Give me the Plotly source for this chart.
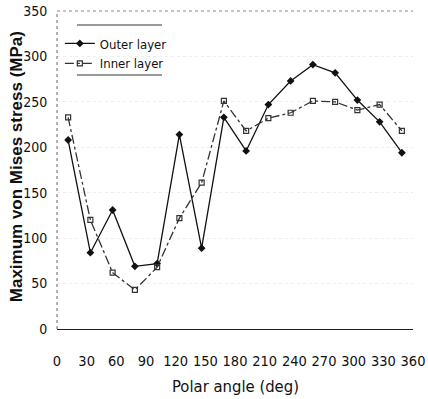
import plotly.graph_objects as go

angles = [11.25, 33.75, 56.25, 78.75, 101.25, 123.75, 146.25, 168.75,
          191.25, 213.75, 236.25, 258.75, 281.25, 303.75, 326.25, 348.75]
outer = [208, 84, 131, 69, 72, 214, 89, 233, 196, 247, 273, 291, 282, 252, 228, 194]
inner = [233, 120, 62, 43, 68, 122, 161, 251, 218, 232, 238, 251, 250, 241, 247, 218]
x_ticks = [0, 30, 60, 90, 120, 150, 180, 210, 240, 270, 300, 330, 360]
y_ticks = [0, 50, 100, 150, 200, 250, 300, 350]

narrow = "DejaVu Sans Condensed, Liberation Sans Narrow, Arial Narrow, Liberation Sans, sans-serif"

fig = go.Figure()
fig.add_trace(go.Scatter(
    x=angles, y=outer, name="Outer layer", mode="lines+markers",
    line=dict(color="#111111", width=1.3),
    marker=dict(symbol="diamond", size=6, color="#111111"),
))
fig.add_trace(go.Scatter(
    x=angles, y=inner, name="Inner layer", mode="lines+markers",
    line=dict(color="#333333", width=1.3, dash="dashdot"),
    marker=dict(symbol="square-open", size=5, color="#333333", line=dict(width=1.2)),
))

fig.update_layout(
    width=428, height=399,
    margin=dict(l=57, r=15, t=11, b=70, autoexpand=False),
    paper_bgcolor="white", plot_bgcolor="white",
    font=dict(family=narrow, color="#111111", size=13),
    showlegend=True,
    legend=dict(
        x=0.008, y=0.945, xanchor="left", yanchor="top",
        bgcolor="rgba(0,0,0,0)", borderwidth=0,
        font=dict(family=narrow, size=13, color="#111111"),
        itemwidth=30, tracegroupgap=2,
    ),
    xaxis=dict(
        range=[0, 360], tickvals=x_ticks, ticktext=[str(v) for v in x_ticks],
        showgrid=False, zeroline=False, automargin=False,
        showline=True, linecolor="#222222", linewidth=1.2,
        ticks="outside", ticklen=18, tickcolor="rgba(0,0,0,0)",
        tickfont=dict(family=narrow, size=14.5, color="#111111"),
    ),
    yaxis=dict(
        range=[0, 350], tickvals=y_ticks, ticktext=[str(v) for v in y_ticks],
        showgrid=True, gridcolor="rgba(0,0,0,0.07)", griddash="dot", gridwidth=1,
        zeroline=False, automargin=False,
        showline=False,
        ticks="outside", ticklen=6, tickcolor="rgba(0,0,0,0)",
        tickfont=dict(family=narrow, size=14, color="#111111"),
    ),
    annotations=[
        dict(text="Polar angle (deg)", xref="paper", yref="paper",
             x=0.5, y=-0.182, xanchor="center", yanchor="middle", showarrow=False,
             font=dict(family=narrow, size=16.5, color="#111111")),
        dict(text="<b>Maximum von Mises stress (MPa)</b>", xref="paper", yref="paper",
             x=-0.114, y=0.51, xanchor="center", yanchor="middle", showarrow=False,
             textangle=-90,
             font=dict(family="Liberation Sans, Arial, sans-serif", size=17, color="#111111")),
    ],
    shapes=[
        dict(type="line", xref="paper", yref="paper", x0=0, x1=1, y0=1, y1=1,
             line=dict(color="#888888", width=1, dash="dot")),
        dict(type="line", xref="paper", yref="paper", x0=0, x1=0, y0=0, y1=1,
             line=dict(color="#666666", width=1, dash="dot")),
        dict(type="line", xref="paper", yref="paper", x0=0.056, x1=0.295, y0=0.956, y1=0.956,
             line=dict(color="#777777", width=1.5)),
        dict(type="line", xref="paper", yref="paper", x0=0.056, x1=0.295, y0=0.799, y1=0.799,
             line=dict(color="#777777", width=1.5)),
    ],
)

fig.write_html("out.html")
